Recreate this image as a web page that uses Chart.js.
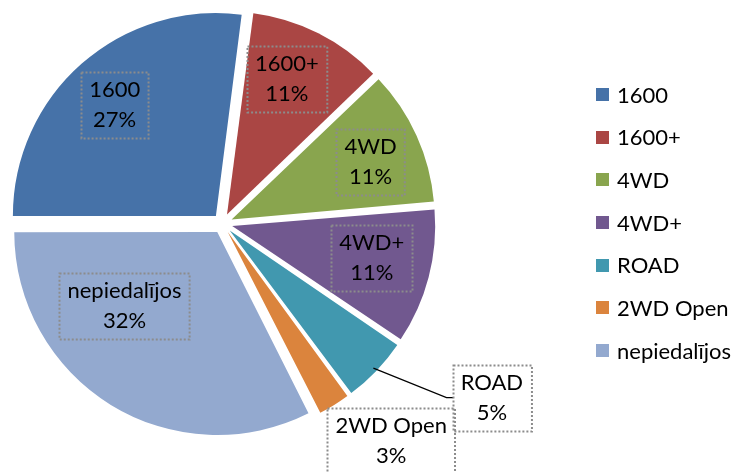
<!DOCTYPE html>
<html>
<head>
<meta charset="utf-8">
<script src="https://cdn.jsdelivr.net/npm/chart.js@4.4.1/dist/chart.umd.min.js"></script>
<style>
  html, body { margin: 0; padding: 0; background: #fff; }
</style>
</head>
<body>
<canvas id="graficoTorta" width="735" height="473"></canvas>
<script>
// Klases un dalībnieku skaits
const klases = ['1600', '1600+', '4WD', '4WD+', 'ROAD', '2WD Open', 'nepiedalījos'];
const dalibnieki = [10, 4, 4, 4, 2, 1, 12];
const krasas = ['#4672A8', '#AA4644', '#89A54E', '#71588F', '#4198AF', '#DB843D', '#93A9CF'];

const FONTS = '22px Lato, "Open Sans", sans-serif';
const RADIUS = 203;

// etiķešu novietojums: leņķa nobīde no sektora viduslīnijas (grādos) un attālums (daļa no rādiusa)
const etiketes = [
    [-0.9, 0.79],
    [-2.8, 0.78],
    [1.7, 0.79],
    [-1.6, 0.755],
    [-10.9, 1.58],
    [-6.2, 1.355],
    [18.4, 0.63]
];
const arVadlinu = [false, false, false, false, true, false, false];

// Chart.js palielina mazos sektorus, kad ir offset; atceļam to
const labotRadiusu = {
    id: 'labotRadiusu',
    beforeDatasetsDraw(chart) {
        const meta = chart.getDatasetMeta(0);
        const bazes = meta.controller.outerRadius;
        meta.data.forEach(arc => {
            const nobide = (arc.options.offset || 0) / 4;
            const loks = arc.endAngle - arc.startAngle;
            const fix = 1 - Math.sin(Math.min(Math.PI, loks));
            arc.outerRadius = bazes - nobide * fix;
        });
    }
};

// datu etiķetes ar punktētu rāmi
const datuEtiketes = {
    id: 'datuEtiketes',
    afterDatasetsDraw(chart) {
        const ctx = chart.ctx;
        const meta = chart.getDatasetMeta(0);
        const dati = chart.data.datasets[0].data;
        const kopa = dati.reduce((s, v) => s + v, 0);
        const R = meta.controller.outerRadius;
        ctx.save();
        ctx.font = FONTS;
        ctx.textAlign = 'center';
        ctx.textBaseline = 'middle';
        meta.data.forEach((arc, i) => {
            const vidus = (arc.startAngle + arc.endAngle) / 2;
            const ang = vidus + etiketes[i][0] * Math.PI / 180;
            const cx = arc.x + Math.cos(ang) * R * etiketes[i][1];
            const cy = arc.y + Math.sin(ang) * R * etiketes[i][1];
            const r1 = chart.data.labels[i];
            const r2 = Math.round(dati[i] / kopa * 100) + '%';
            const w = Math.max(ctx.measureText(r1).width, ctx.measureText(r2).width) + 16;
            const h = 66;
            const x0 = Math.round(cx - w / 2) + 0.5;
            const y0 = Math.round(cy - h / 2) + 0.5;

            if (arVadlinu[i]) {
                const nob = (arc.options.offset || 0) / 4;
                const px = arc.x + Math.cos(vidus) * (nob + R - 4);
                const py = arc.y + Math.sin(vidus) * (nob + R - 4);
                ctx.strokeStyle = '#000';
                ctx.lineWidth = 1.2;
                ctx.setLineDash([]);
                ctx.beginPath();
                ctx.moveTo(px, py);
                ctx.lineTo(x0 - 7, cy);
                ctx.lineTo(x0, cy);
                ctx.stroke();
                ctx.fillStyle = '#fff';
                ctx.fillRect(x0, y0, w, h);
            }

            ctx.strokeStyle = '#8c8c8c';
            ctx.lineWidth = 2;
            ctx.setLineDash([2, 2]);
            ctx.strokeRect(x0, y0, w, h);
            ctx.fillStyle = '#000';
            ctx.fillText(r1, cx, cy - 15);
            ctx.fillText(r2, cx, cy + 15);
        });
        ctx.restore();
    }
};

// leģenda labajā pusē
const legenda = {
    id: 'legenda',
    afterDraw(chart) {
        const ctx = chart.ctx;
        const krasasDs = chart.data.datasets[0].backgroundColor;
        ctx.save();
        ctx.font = FONTS;
        ctx.textAlign = 'left';
        ctx.textBaseline = 'middle';
        chart.data.labels.forEach((l, i) => {
            const y = 94.5 + i * 42.67;
            ctx.fillStyle = krasasDs[i];
            ctx.fillRect(596, Math.round(y - 6.5), 13, 13);
            ctx.fillStyle = '#000';
            ctx.fillText(l, 617, y + 1);
        });
        ctx.restore();
    }
};

new Chart(document.getElementById('graficoTorta'), {
    type: 'pie',
    data: {
        labels: klases,
        datasets: [{
            data: dalibnieki,
            backgroundColor: krasas,
            borderWidth: 0,
            offset: 40
        }]
    },
    options: {
        responsive: false,
        animation: false,
        rotation: -90,
        radius: RADIUS,
        layout: { padding: { left: 0, top: 0, right: 290, bottom: 26 } },
        plugins: {
            legend: { display: false },
            tooltip: { enabled: false }
        }
    },
    plugins: [labotRadiusu, datuEtiketes, legenda]
});
</script>
</body>
</html>
